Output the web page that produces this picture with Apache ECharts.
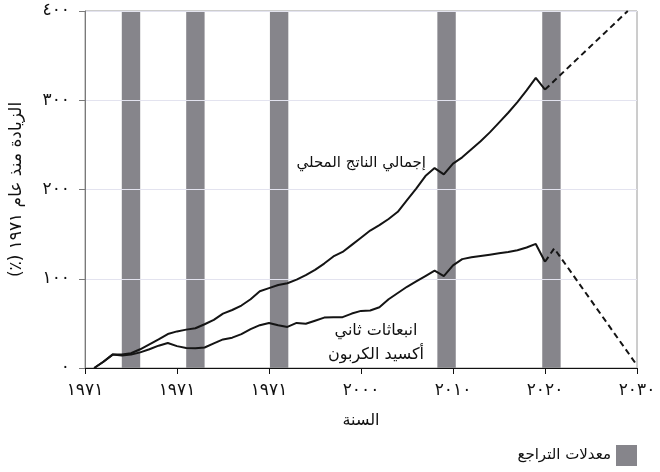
<!DOCTYPE html>
<html>
<head>
<meta charset="UTF-8">
<script src="https://cdn.jsdelivr.net/npm/echarts@6/dist/echarts.min.js"></script>
<style type="text/css">
html, body { margin: 0; padding: 0; background: #fff; }
#main { width: 660px; height: 472px; }
</style>
</head>
<body>
<div id="main"></div>
<script type="text/javascript">
// السنوات والقيم (٪ زيادة منذ ١٩٧١)
var years = [];
for (var y = 1971; y <= 2020; y++) years.push(y);

var gdp = [0, 7, 15, 15, 16.5, 21, 26.5, 32, 38, 41,
	43, 44.5, 49, 54, 61, 65, 70, 77, 86, 89.5,
	93, 95, 99, 104, 110, 117, 125, 130, 138, 146,
	154, 160, 167, 175, 188, 201, 215, 224, 217, 229,
	236, 245, 254, 264, 275, 286, 298, 311, 325, 312];

var co2 = [0, 7, 15, 14, 15, 17.5, 21, 25, 28, 24.5,
	22.5, 22, 23, 27.5, 32, 34, 38, 43.5, 48, 50.5,
	48, 46, 50.5, 49.5, 53, 56.5, 57, 57, 61, 64,
	64.5, 68, 77, 84, 91, 97, 103, 109, 103, 115,
	122, 124, 125.5, 127, 128.5, 130, 132, 135, 139, 119];

// التوقعات (خط متقطع)
var gdpProjYears = [2020, 2029];
var gdpProj = [312, 400];
var co2ProjYears = [2020, 2021, 2030];
var co2Proj = [119, 134, 3];

// فترات التراجع
var recessions = [[1974, 1976], [1981, 1983], [1990.1, 1992.1], [2008.3, 2010.3], [2019.7, 2021.7]];

var xTickLabels = ['١٩٧١', '١٩٧١', '١٩٧١', '٢٠٠٠', '٢٠١٠', '٢٠٢٠', '٢٠٣٠'];
var yTickLabels = ['٠', '١٠٠', '٢٠٠', '٣٠٠', '٤٠٠'];

function pairs(xs, vs) {
	var out = [];
	for (var i = 0; i < xs.length; i++) out.push([xs[i], vs[i]]);
	return out;
}

var font = 'DejaVu Sans';
var myChart = echarts.init(document.getElementById('main'));

var option = {
	animation: false,
	textStyle: { fontFamily: font },
	grid: {
		left: 83, right: 23, top: 11, bottom: 104,
		show: true, borderColor: '#9a9a9a', borderWidth: 1
	},
	legend: {
		right: 23, top: 445, padding: 0,
		itemWidth: 21, itemHeight: 21, itemGap: 6,
		align: 'right', icon: 'rect',
		textStyle: { fontFamily: font, fontSize: 15, color: '#111' },
		data: ['معدلات التراجع']
	},
	xAxis: {
		type: 'value', min: 1970, max: 2030, interval: 10,
		name: 'السنة', nameLocation: 'middle', nameGap: 45,
		nameTextStyle: { fontFamily: font, fontSize: 16, color: '#111' },
		axisLine: { lineStyle: { color: '#111', width: 1 } },
		axisTick: { show: true, length: 6, lineStyle: { color: '#111' } },
		splitLine: { show: false },
		axisLabel: {
			margin: 14, fontSize: 17, color: '#111', fontFamily: font,
			formatter: function (v) { return xTickLabels[Math.round((v - 1970) / 10)]; }
		}
	},
	yAxis: {
		type: 'value', min: 0, max: 400, interval: 100,
		name: '\u200Fالزيادة منذ عام ١٩٧١ (٪)\u200F', nameLocation: 'middle', nameGap: 60,
		nameTextStyle: { fontFamily: font, fontSize: 17, color: '#111' },
		axisLine: { show: true, lineStyle: { color: '#7a7a7a', width: 1 } },
		axisTick: { show: true, length: 6, lineStyle: { color: '#7a7a7a' } },
		splitLine: { show: true, lineStyle: { color: '#e3e3ef', width: 1 } },
		axisLabel: {
			margin: 15, fontSize: 17, color: '#111', fontFamily: font,
			formatter: function (v) { return yTickLabels[Math.round(v / 100)]; }
		}
	},
	series: [
		{
			name: 'معدلات التراجع', type: 'line', data: [],
			itemStyle: { color: '#86858b' },
			markArea: {
				silent: true, z: -1,
				itemStyle: { color: '#86858b' },
				data: recessions.map(function (r) { return [{ xAxis: r[0] }, { xAxis: r[1] }]; })
			}
		},
		{
			type: 'line', data: pairs(years, gdp), symbol: 'none',
			lineStyle: { color: '#141414', width: 2 }
		},
		{
			type: 'line', data: pairs(gdpProjYears, gdpProj), symbol: 'none',
			lineStyle: { color: '#141414', width: 2, type: [6, 4] }
		},
		{
			type: 'line', data: pairs(years, co2), symbol: 'none',
			lineStyle: { color: '#141414', width: 2 }
		},
		{
			type: 'line', data: pairs(co2ProjYears, co2Proj), symbol: 'none',
			lineStyle: { color: '#141414', width: 2, type: [6, 4] }
		}
	],
	graphic: [
		{
			type: 'text', x: 426, y: 163,
			style: {
				text: 'إجمالي الناتج المحلي', font: '15px "DejaVu Sans"', fill: '#111',
				align: 'right', verticalAlign: 'middle'
			}
		},
		{
			type: 'text', x: 376, y: 343,
			style: {
				text: 'انبعاثات ثاني\nأكسيد الكربون', font: '16px "DejaVu Sans"',
				fill: '#111', align: 'center', verticalAlign: 'middle', lineHeight: 24
			}
		}
	]
};

myChart.setOption(option);
</script>
</body>
</html>
